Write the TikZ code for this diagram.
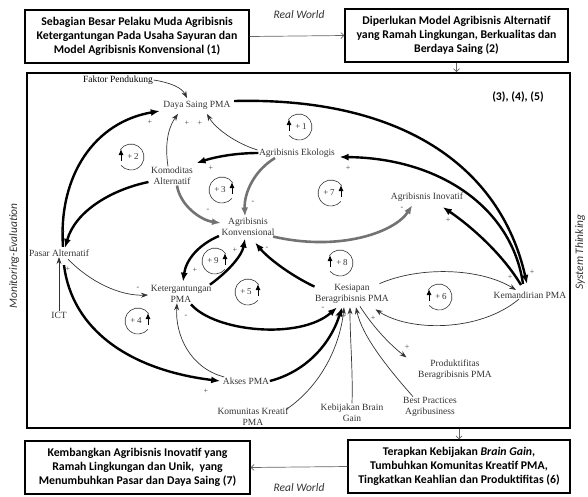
\documentclass[tikz,border=0pt]{standalone}
\usepackage{fontspec}
\setmainfont{Liberation Serif}
\newfontfamily\boxfont{Carlito}
\usetikzlibrary{arrows.meta,calc}

\tikzset{
  var/.style={font=\fontsize{9.5}{11}\selectfont, text=black!80, align=center, inner sep=0.5pt},
  sgn/.style={font=\fontsize{8}{8}\selectfont, text=black!75, inner sep=0pt},
  thinlink/.style={draw=black!80, line width=0.7pt, -{Stealth[length=7pt,width=5pt]}},
  thicklink/.style={draw=black, line width=2.4pt, -{Latex[length=9pt,width=7pt]}},
  graylink/.style={draw=black!55, line width=2.6pt, -{Latex[length=9pt,width=7pt]}},
  casebox/.style={draw, line width=1.4pt, minimum width=#1, minimum height=53pt,
    inner sep=2pt, align=center, font=\boxfont\bfseries\fontsize{11.8}{14}\selectfont},
  flowlink/.style={draw=black!60, line width=0.7pt, -{Straight Barb[length=3pt,width=6pt]}},
  side/.style={font=\boxfont\itshape\fontsize{11.5}{13}\selectfont, text=black!80, inner sep=0pt},
  looptxt/.style={font=\fontsize{9}{9}\selectfont, text=black!80, inner sep=0pt},
  loopL/.pic={
    \begin{scope}[yscale=-1]
      \draw[line width=0.6pt, black!80] (145:13) arc[start angle=145, end angle=-140, radius=13];
      \draw[line width=1pt, -{Latex[length=6pt,width=5pt]}] (-10,-4) -- (-10,8);
    \end{scope}
    \node[looptxt] (-t) at (2,0) {+\,#1};
  },
  loopR/.pic={
    \begin{scope}[yscale=-1]
      \draw[line width=0.6pt, black!80] (35:13) arc[start angle=35, end angle=320, radius=13];
      \draw[line width=1pt, -{Latex[length=6pt,width=5pt]}] (10,-4) -- (10,8);
    \end{scope}
    \node[looptxt] (-t) at (-2,0) {+\,#1};
  },
}

\begin{document}
\begin{tikzpicture}[x=1pt,y=-1pt]
\useasboundingbox (0,0) rectangle (588,496);

% ---- framing boxes ----
\node[casebox=224pt] (b1) at (137,36.5) {Sebagian Besar Pelaku Muda Agribisnis\\Ketergantungan Pada Usaha Sayuran dan\\Model Agribisnis Konvensional (1)};
\node[casebox=223pt] (b2) at (456.5,35.5) {Diperlukan Model Agribisnis Alternatif\\yang Ramah Lingkungan, Berkualitas dan\\Berdaya Saing (2)};
\node[casebox=222pt] (b3) at (459,466.5) {Terapkan Kebijakan \textit{Brain Gain},\\Tumbuhkan Komunitas Kreatif PMA,\\Tingkatkan Keahlian dan Produktifitas (6)};
\node[casebox=225pt] (b4) at (137.5,467.5) {Kembangkan Agribisnis Inovatif yang\\Ramah Lingkungan dan Unik,\ \ yang\\Menumbuhkan Pasar dan Daya Saing (7)};
\node[draw, line width=1.6pt, minimum width=543pt, minimum height=355pt, inner sep=0pt] (frame) at (298.5,250.5) {};

\node[side] (rw1) at (299,15) {Real World};
\node[side] (rw2) at (299,488) {Real World};
\node[side, rotate=90] (me) at (14,256) {Monitoring-Evaluation};
\node[side, rotate=90] (st) at (580,252) {System Thinking};
\node[font=\boxfont\bfseries\fontsize{11.8}{13}\selectfont, inner sep=0pt] (stg) at (518,97) {(3), (4), (5)};

\draw[flowlink] (b1.east) -- (b2.west);
\draw[flowlink] (b2.south) -- (b2.south |- frame.north);
\draw[flowlink] (frame.south -| b3.north) -- (b3.north);
\draw[flowlink] (b3.west) -- (b4.east);

% ---- variables ----
\node[var, text=black] (fp) at (118,80) {Faktor Pendukung};
\node[var] (dsp) at (197,105) {Daya Saing PMA};
\node[var] (eko) at (297,153) {Agribisnis Ekologis};
\node[var] (kom) at (172,176) {Komoditas\\Alternatif};
\node[var] (konv) at (248,227) {Agribisnis\\Konvensional};
\node[var] (ino) at (427,197) {Agribisnis Inovatif};
\node[var] (pasar) at (59,253) {Pasar Alternatif};
\node[var] (ket) at (181,294) {Ketergantungan\\PMA};
\node[var] (ict) at (59,315) {ICT};
\node[var] (kes) at (352,294) {Kesiapan\\Beragribisnis PMA};
\node[var] (mand) at (530,295) {Kemandirian PMA};
\node[var] (akses) at (246,381) {Akses PMA};
\node[var] (kkp) at (253,417) {Komunitas Kreatif\\PMA};
\node[var] (kbg) at (352,413) {Kebijakan Brain\\Gain};
\node[var] (bpa) at (430,407) {Best Practices\\Agribusiness};
\node[var] (prod) at (455,370) {Produktifitas\\Beragribisnis PMA};

% ---- thin links ----
\draw[thinlink] (fp.east) .. controls (172,83) and (182,88) .. ($(dsp.north)+(-10,-2)$);
\draw[thinlink] ($(kom.north)+(-4,0)$) .. controls (164,140) and (170,125) .. ($(dsp.south)+(-19,4)$);
\draw[thinlink] ($(eko.west)+(-1,-3)$) .. controls (235,143) and (215,128) .. ($(dsp.south)+(10,4)$);
\draw[thinlink] (ict.north) -- (pasar.south);
\draw[thinlink] ($(pasar.south)+(9,2)$) .. controls (90,282) and (120,296) .. ($(ket.west)+(-2,1)$);
\draw[thinlink] ($(akses.north west)+(2,0)$) .. controls (190,368) and (175,335) .. ($(ket.south)+(-4,0)$);
\draw[thinlink] ($(kes.north east)+(-10,0)$) .. controls (420,266) and (480,268) .. ($(mand.north west)+(23,-1)$);
\draw[thinlink] ($(mand.south west)+(26,0)$) .. controls (480,332) and (410,332) .. ($(kes.south east)+(-14,5)$);
\draw[thinlink] ($(kes.south)+(8,2)$) .. controls (375,330) and (393,347) .. ($(prod.north west)+(-11,-2)$);
\draw[thinlink] ($(kkp.north east)+(-3,2)$) .. controls (322,385) and (340,345) .. ($(kes.south)+(-8,3)$);
\draw[thinlink] (kbg.north) .. controls (353,370) and (350,340) .. ($(kes.south)+(-2,3)$);
\draw[thinlink] ($(bpa.north)+(-17,0)$) .. controls (385,365) and (362,335) .. ($(kes.south)+(4,3)$);

% ---- grey links ----
\draw[graylink] ($(eko.south)+(-22,0)$) .. controls (255,170) and (244,192) .. ($(konv.north)+(-3,-1)$);
\draw[graylink] ($(kom.south)+(5,0)$) .. controls (180,205) and (200,220) .. ($(konv.west)+(0,-4)$);
\draw[graylink] ($(konv.south east)+(-2,0)$) .. controls (340,252) and (395,232) .. ($(ino.south west)+(22,3)$);

% ---- thick links ----
\draw[thicklink] ($(pasar.north)+(4,-2)$) .. controls (58,175) and (95,122) .. ($(dsp.west)+(-3,6)$);
\draw[thicklink] ($(kom.west)+(-2,6)$) .. controls (110,190) and (75,212) .. ($(pasar.north)+(6,-1)$);
\draw[thicklink] ($(pasar.south)+(5,8)$) .. controls (72,330) and (130,370) .. ($(akses.west)+(-2,0)$);
\draw[thicklink] (akses.east) .. controls (305,372) and (330,345) .. ($(kes.south)+(-10,3)$);
\draw[thicklink] ($(ket.south)+(10,1)$) .. controls (215,332) and (300,340) .. ($(kes.south)+(-15,3)$);
\draw[thicklink] ($(ket.north east)+(-2,0)$) .. controls (230,270) and (242,255) .. ($(konv.south)+(-3,2)$);
\draw[thicklink] ($(konv.west)+(-2,9)$) .. controls (198,245) and (186,260) .. ($(ket.north)+(2,-3)$);
\draw[thicklink] ($(kes.north west)+(0,3)$) .. controls (290,275) and (268,258) .. ($(konv.south east)+(-20,6)$);
\draw[thicklink] (eko.west) .. controls (235,153) and (215,157) .. ($(kom.east)+(3,-13)$);
\draw[thicklink] ($(dsp.east)+(3,-4)$) .. controls (400,97) and (500,165) .. ($(mand.north)+(-3,-7)$);
\draw[thicklink] ($(mand.north)+(-7,-7)$) .. controls (512,208) and (440,158) .. ($(eko.east)+(4,4)$);
\draw[thicklink] ($(mand.north)+(-9,-6)$) .. controls (500,250) and (465,222) .. ($(ino.south east)+(-21,5)$);

% ---- polarity marks ----
\node[sgn] (s1) at (150,122) {+};
\node[sgn] (s2) at (187,123) {+};
\node[sgn] (s3) at (200,123) {+};
\node[sgn] (s4) at (63,232) {+};
\node[sgn] (s5) at (68,269) {+};
\node[sgn] (s6) at (138,288) {-};
\node[sgn] (s7) at (186,316) {-};
\node[sgn] (s8) at (235,250) {+};
\node[sgn] (s9) at (195,270) {+};
\node[sgn] (s10) at (267,248) {-};
\node[sgn] (s11) at (323,308) {-};
\node[sgn] (s12) at (206,391) {+};
\node[sgn] (s13) at (211,168) {+};
\node[sgn] (s14) at (253,202) {-};
\node[sgn] (s15) at (208,210) {-};
\node[sgn] (s16) at (402,208) {-};
\node[sgn] (s17) at (448,220) {+};
\node[sgn] (s18) at (348,168) {+};
\node[sgn] (s19) at (532,272) {+};
\node[sgn] (s20) at (510,277) {+};
\node[sgn] (s21) at (373,318) {+};
\node[sgn] (s22) at (407,347) {+};
\node[sgn] (s23) at (337,316) {+};
\node[sgn] (s24) at (344,316) {+};

% ---- loop markers ----
\pic (lp1) at (299,127) {loopL=1};
\pic (lp2) at (131,157) {loopL=2};
\pic (lp3) at (222,190) {loopR=3};
\pic (lp7) at (331,193) {loopR=7};
\pic (lp9) at (215,261) {loopR=9};
\pic (lp5) at (248,292) {loopR=5};
\pic (lp8) at (340,263) {loopL=8};
\pic (lp4) at (138,321) {loopR=4};
\pic (lp6) at (439,297) {loopL=6};
\end{tikzpicture}
\end{document}
